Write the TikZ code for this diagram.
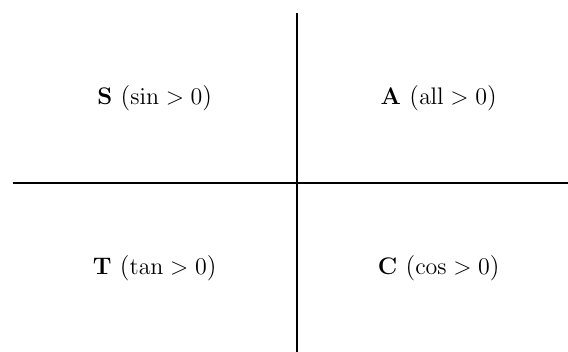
\documentclass[tikz,border=0pt]{standalone}
\usepackage{tikz}
\usetikzlibrary{positioning}

\begin{document}
\begin{tikzpicture}[x=1cm, y=1cm, every node/.style={font=\fontsize{12.7pt}{15pt}\selectfont}]
\useasboundingbox (-5.224,-2.958) rectangle (4.776,3.222);
\coordinate (left) at (-5,0);
\coordinate (right) at (5,0);
\coordinate (bottom) at (0,-3);
\coordinate (top) at (0,3);
\draw[line width=1.1pt] (left) -- (right);
\draw[line width=1.1pt] (bottom) -- (top);
\node (qtwo) at (-2.5,1.5) {$\mathbf{S}$ ($\sin > 0$)};
\node (qone) at (2.5,1.5) {$\mathbf{A}$ ($\mathrm{all} > 0$)};
\node (qthree) at (-2.5,-1.5) {$\mathbf{T}$ ($\tan > 0$)};
\node (qfour) at (2.5,-1.5) {$\mathbf{C}$ ($\cos > 0$)};
\end{tikzpicture}
\end{document}
